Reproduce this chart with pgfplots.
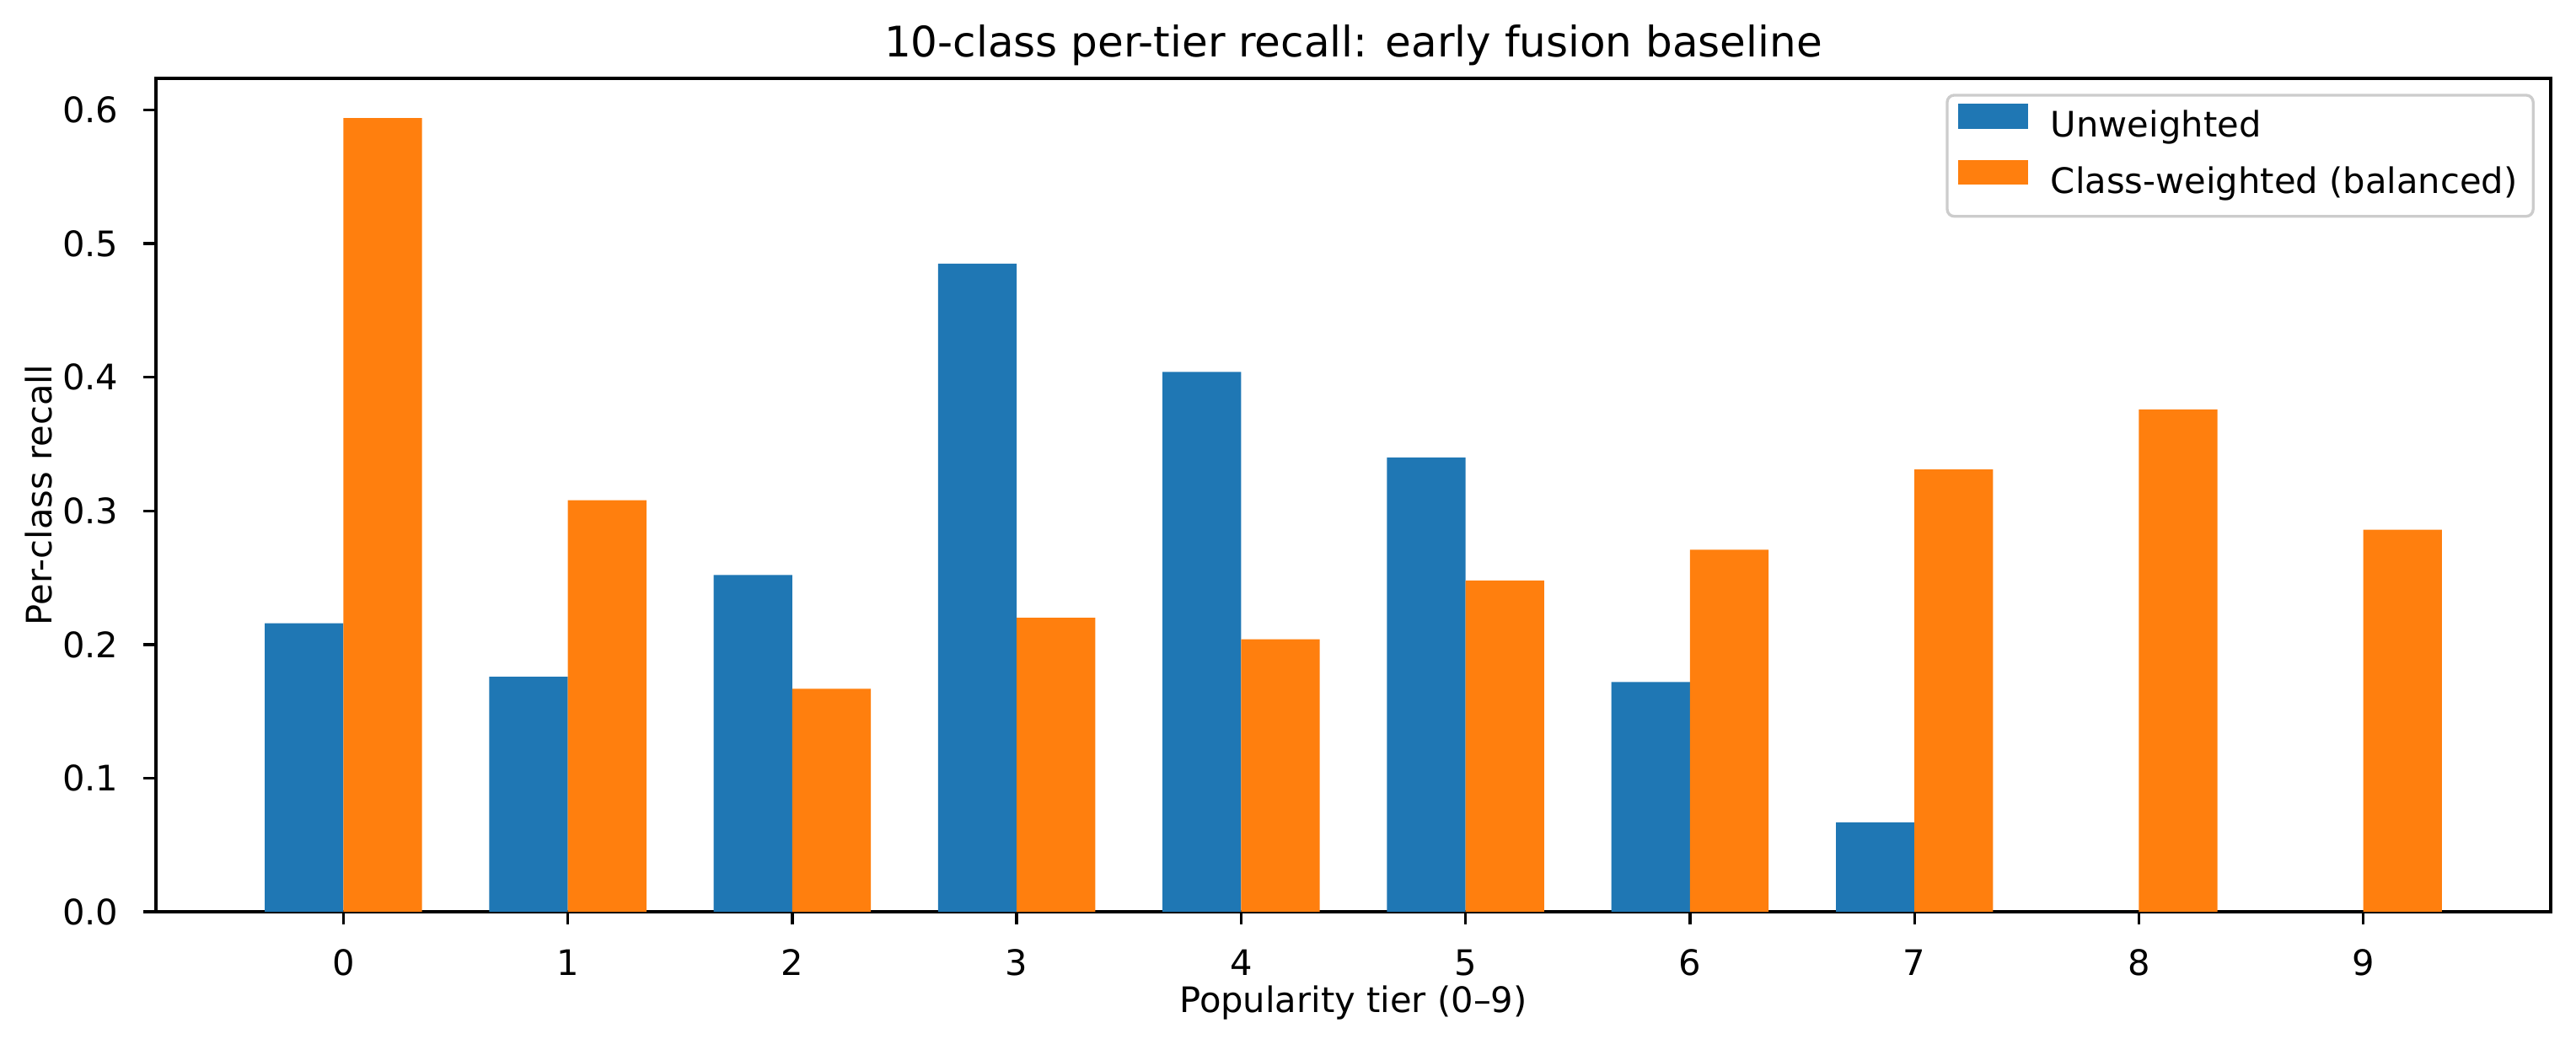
\documentclass[border=0pt]{standalone}
\usepackage{fontspec}
\setmainfont{DejaVu Sans}
\usepackage{pgfplots}
\pgfplotsset{compat=1.18}
\definecolor{tabblue}{HTML}{1F77B4}
\definecolor{taborange}{HTML}{FF7F0E}
\begin{document}
\begin{tikzpicture}
\begin{axis}[
  scale only axis, width=681.8pt, height=237.4pt,
  xmin=-0.835, xmax=9.835, ymin=0, ymax=0.6237,
  xtick={0,1,2,3,4,5,6,7,8,9},
  ytick={0,0.1,0.2,0.3,0.4,0.5,0.6},
  tick pos=left, tick align=outside,
  major tick length=3.5pt,
  tick style={black, line width=0.8pt},
  axis line style={line width=0.8pt},
  /pgf/number format/assume math mode=true,
  ticklabel style={font=\fontsize{10}{12}\selectfont},
  xticklabel style={anchor=base, inner sep=0pt, yshift=-14.5pt},
  yticklabel style={anchor=east, inner sep=0pt, xshift=-7pt,
    /pgf/number format/.cd, fixed, fixed zerofill, precision=1},
  title={10-class per-tier recall: early fusion baseline},
  title style={at={(axis description cs:0.5,1)}, anchor=base, inner sep=0pt, font=\fontsize{12}{14}\selectfont},
  xlabel={Popularity tier (0–9)},
  xlabel style={at={(axis description cs:0.5,-0.1205)}, anchor=base, inner sep=0pt, font=\fontsize{10}{12}\selectfont},
  ylabel={Per-class recall},
  ylabel style={at={(axis description cs:-0.049,0.5)}, anchor=center, inner sep=0pt, font=\fontsize{10}{12}\selectfont},
  legend cell align=left,
  legend image code/.code={\fill[#1, sharp corners] (0pt,0pt) rectangle (20pt,7pt);},
  legend style={at={(axis description cs:1,1)}, anchor=north east, xshift=-5pt, yshift=-4.8pt,
    outer sep=0pt,
    draw=black!20, line width=0.8pt, rounded corners=2pt, fill=white, font=\fontsize{10}{12}\selectfont,
    inner xsep=3pt, inner ysep=2.5pt, row sep=2.5pt, column sep=5pt,
    nodes={inner sep=1.5pt, text height=7.5pt, text depth=2.5pt}},
]
\addplot[ybar, bar width=0.35, bar shift=-0.175, fill=tabblue, draw=none] coordinates {
  (0,0.216) (1,0.176) (2,0.252) (3,0.485) (4,0.404) (5,0.340) (6,0.172) (7,0.067) (8,0) (9,0)};
\addplot[ybar, bar width=0.35, bar shift=0.175, fill=taborange, draw=none] coordinates {
  (0,0.594) (1,0.308) (2,0.167) (3,0.220) (4,0.204) (5,0.248) (6,0.271) (7,0.331) (8,0.376) (9,0.286)};
\legend{Unweighted, Class-weighted (balanced)}
\end{axis}
\pgfresetboundingbox
\useasboundingbox (-44.4pt,-36pt) rectangle (689pt,259.7pt);
\end{tikzpicture}
\end{document}
